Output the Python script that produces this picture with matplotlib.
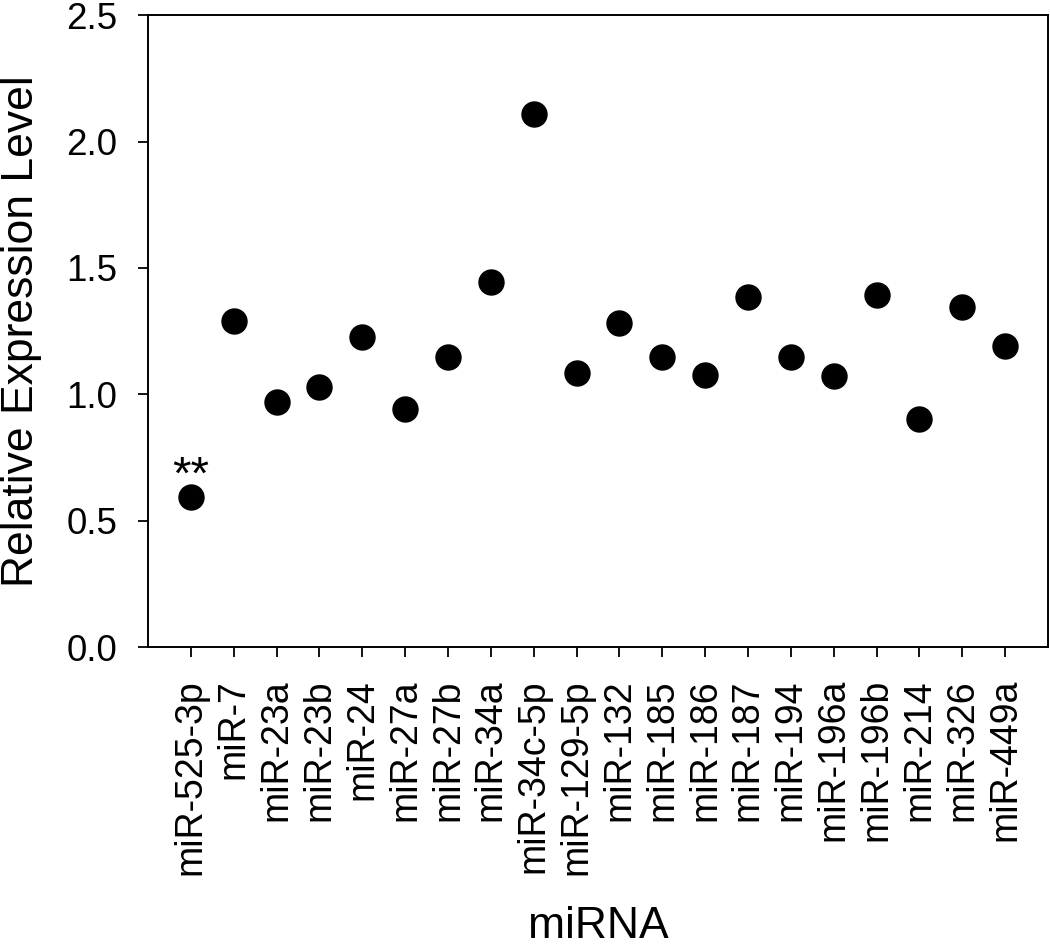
import matplotlib
matplotlib.use("Agg")
import matplotlib.pyplot as plt
import numpy as np

plt.rcParams['font.family'] = ['Liberation Sans', 'DejaVu Sans']

mirnas = ['miR-525-3p', 'miR-7', 'miR-23a', 'miR-23b', 'miR-24', 'miR-27a',
          'miR-27b', 'miR-34a', 'miR-34c-5p', 'miR-129-5p', 'miR-132',
          'miR-185', 'miR-186', 'miR-187', 'miR-194', 'miR-196a', 'miR-196b',
          'miR-214', 'miR-326', 'miR-449a']
expression = [0.593, 1.289, 0.970, 1.027, 1.227, 0.940, 1.149, 1.446, 2.110,
              1.086, 1.283, 1.148, 1.078, 1.384, 1.146, 1.074, 1.391, 0.902,
              1.345, 1.191]

fig = plt.figure(figsize=(10.5, 9.46), dpi=100)
ax = fig.add_axes([0.141, 0.316, 0.857, 0.668])

x = np.arange(1, len(mirnas) + 1)
ax.plot(x, expression, 'o', color='black', markersize=18, linestyle='none')

# significance mark
ax.text(x[0], expression[0] + 0.034, '**', ha='center', va='baseline', fontsize=34)

ax.set_xlim(0, 21)
ax.set_ylim(0, 2.5)
ax.set_yticks([0, 0.5, 1.0, 1.5, 2.0, 2.5])
ax.set_yticklabels(['0.0', '0.5', '1.0', '1.5', '2.0', '2.5'], fontsize=26.5)
ax.set_xticks(x)
ax.set_xticklabels(mirnas, rotation=90, fontsize=27)
ax.tick_params(direction='out', length=7, width=1.3)
ax.tick_params(axis='x', pad=16)
ax.tick_params(axis='y', pad=15)
for s in ax.spines.values():
    s.set_linewidth(1.4)

ax.set_ylabel('Relative Expression Level', fontsize=32)
ax.yaxis.set_label_coords(-0.118, 0.5)
ax.set_xlabel('miRNA', fontsize=32)
ax.xaxis.set_label_coords(0.5, -0.41)

fig.savefig('out.png', dpi=100)
